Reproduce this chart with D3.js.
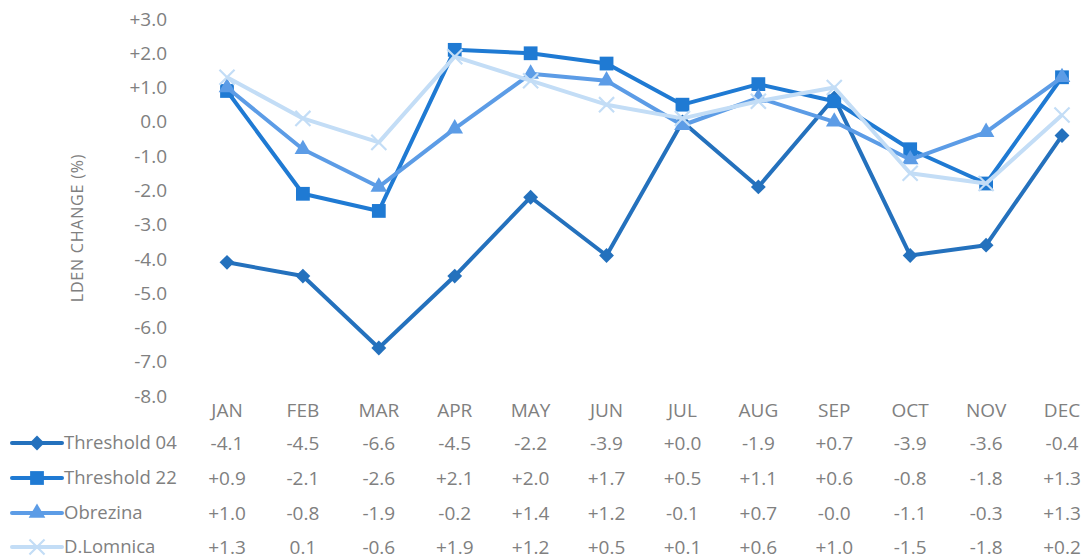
<!DOCTYPE html>
<html>
<head>
<meta charset="utf-8">
<script src="https://cdn.jsdelivr.net/npm/d3@7"></script>
<style>
  body { margin: 0; background: #fff; }
  text { font-family: "Open Sans", "Noto Sans", sans-serif; fill: #808080; }
</style>
</head>
<body>
<script>
let w = 1087
let h = 560

let months = ["JAN", "FEB", "MAR", "APR", "MAY", "JUN", "JUL", "AUG", "SEP", "OCT", "NOV", "DEC"]
let seriesNames = ["Threshold 04", "Threshold 22", "Obrezina", "D.Lomnica"]
let thr04 = ["-4.1", "-4.5", "-6.6", "-4.5", "-2.2", "-3.9", "+0.0", "-1.9", "+0.7", "-3.9", "-3.6", "-0.4"]
let thr22 = ["+0.9", "-2.1", "-2.6", "+2.1", "+2.0", "+1.7", "+0.5", "+1.1", "+0.6", "-0.8", "-1.8", "+1.3"]
let obrezina = ["+1.0", "-0.8", "-1.9", "-0.2", "+1.4", "+1.2", "-0.1", "+0.7", "-0.0", "-1.1", "-0.3", "+1.3"]
let lomnica = ["+1.3", "0.1", "-0.6", "+1.9", "+1.2", "+0.5", "+0.1", "+0.6", "+1.0", "-1.5", "-1.8", "+0.2"]
let yTicks = [3, 2, 1, 0, -1, -2, -3, -4, -5, -6, -7, -8]

let colors = ["#2471bd", "#1f7ad3", "#5c9ce6", "#c3ddf6"]
let allRows = [thr04, thr22, obrezina, lomnica]

// marker shapes: diamond is a square turned 45deg
let markers = [
  { type: d3.symbolSquare, size: 110, rot: 45, fill: true },
  { type: d3.symbolSquare, size: 190, rot: 0, fill: true },
  { type: d3.symbolTriangle, size: 120, rot: 0, fill: true },
  { type: d3.symbolX, size: 150, rot: 0, fill: false }
]

let series = seriesNames.map((name, i) => ({
  name: name,
  color: colors[i],
  marker: markers[i],
  labels: allRows[i],
  values: allRows[i].map(s => +s)
}))

let svg = d3.select("body").append("svg")
  .attr("width", w)
  .attr("height", h)

let x = d3.scalePoint().domain(months).range([227, 1062])
let y = d3.scaleLinear().domain([-8, 3]).range([396, 19])

let fmt = v => v > 0 ? "+" + v.toFixed(1) : v.toFixed(1)

let yAxis = svg.append("g")
  .attr("transform", "translate(167,0)")
  .call(d3.axisLeft(y).tickValues(yTicks).tickFormat(fmt).tickSize(0).tickPadding(0))
yAxis.select(".domain").remove()
yAxis.selectAll("text")
  .style("font-size", "19px")
  .style("font-family", null)
  .attr("fill", "#808080")

svg.append("text")
  .attr("transform", "translate(77,228) rotate(-90)")
  .attr("text-anchor", "middle")
  .attr("dy", "0.35em")
  .style("font-size", "16px")
  .style("letter-spacing", "0.8px")
  .text("LDEN CHANGE (%)")

let line = d3.line()
  .x((d, i) => x(months[i]))
  .y(d => y(d))

let drawMark = (sel, s) => {
  sel.attr("d", d3.symbol().type(s.marker.type).size(s.marker.size))
    .attr("fill", s.marker.fill ? s.color : "none")
    .attr("stroke", s.color)
    .attr("stroke-width", s.marker.fill ? 0 : 2.2)
}

series.forEach(s => {
  let g = svg.append("g")
  g.append("path")
    .datum(s.values)
    .attr("d", line)
    .attr("fill", "none")
    .attr("stroke", s.color)
    .attr("stroke-width", 4)
    .attr("stroke-linejoin", "round")

  g.selectAll("path.mark")
    .data(s.values)
    .enter()
    .append("path")
    .attr("class", "mark")
    .attr("transform", (d, i) => "translate(" + x(months[i]) + "," + y(d) + ") rotate(" + s.marker.rot + ")")
    .call(drawMark, s)
})

// data table under the plot
svg.append("g").selectAll("text")
  .data(months)
  .enter()
  .append("text")
  .attr("x", d => x(d))
  .attr("y", 410)
  .attr("dy", "0.35em")
  .attr("text-anchor", "middle")
  .style("font-size", "19px")
  .text(d => d)

let rowY = [443, 478, 513, 547]
series.forEach((s, k) => {
  let row = svg.append("g")
  row.append("line")
    .attr("x1", 12).attr("x2", 62)
    .attr("y1", rowY[k]).attr("y2", rowY[k])
    .attr("stroke", s.color)
    .attr("stroke-width", 4)
    .attr("stroke-linecap", "round")
  row.append("path")
    .attr("transform", "translate(37," + rowY[k] + ") rotate(" + s.marker.rot + ")")
    .call(drawMark, s)
  row.append("text")
    .attr("x", 64)
    .attr("y", rowY[k])
    .attr("dy", "0.35em")
    .style("font-size", "18.5px")
    .text(s.name)
  row.selectAll("text.val")
    .data(s.labels)
    .enter()
    .append("text")
    .attr("class", "val")
    .attr("x", (d, i) => x(months[i]))
    .attr("y", rowY[k])
    .attr("dy", "0.35em")
    .attr("text-anchor", "middle")
    .style("font-size", "19px")
    .text(d => d)
})
</script>
</body>
</html>
